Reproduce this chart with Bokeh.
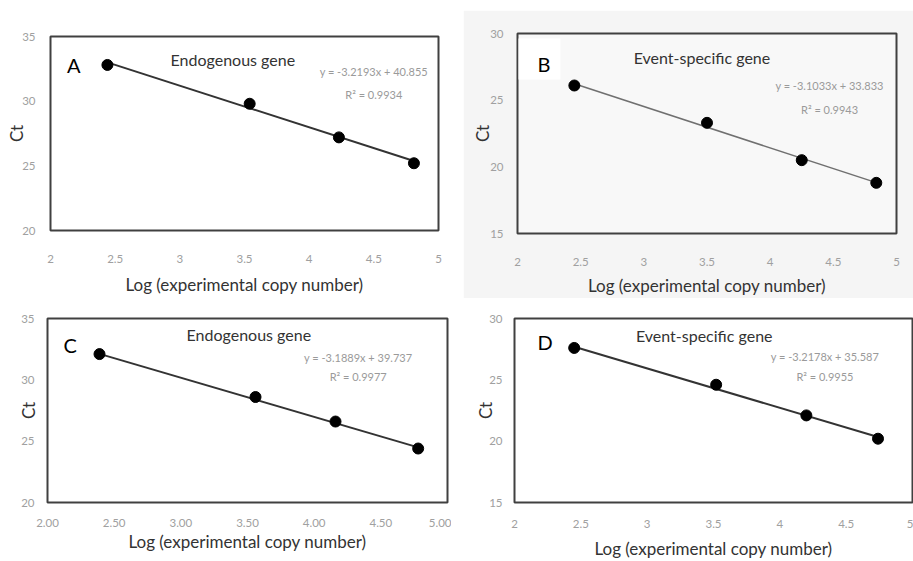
from bokeh.plotting import figure
from bokeh.layouts import column, row
from bokeh.models import Range1d, SingleIntervalTicker, NumeralTickFormatter, Label, BoxAnnotation, Spacer
from bokeh.embed import file_html
from bokeh.resources import INLINE

# ---- data ----
a_x = [2.44, 3.54, 4.23, 4.81]
a_y = [32.8, 29.8, 27.2, 25.2]
b_x = [2.45, 3.50, 4.25, 4.84]
b_y = [26.1, 23.3, 20.5, 18.8]
c_x = [2.39, 3.56, 4.16, 4.78]
c_y = [32.1, 28.6, 26.6, 24.4]
d_x = [2.45, 3.52, 4.20, 4.74]
d_y = [27.6, 24.6, 22.1, 20.2]

slopes = [-3.2193, -3.1033, -3.1889, -3.2178]
intercepts = [40.855, 33.833, 39.737, 35.587]
r2 = ["0.9934", "0.9943", "0.9977", "0.9955"]
panel_letters = ["A", "B", "C", "D"]
panel_titles = ["Endogenous gene", "Event-specific gene", "Endogenous gene", "Event-specific gene"]
y_ranges = [(20, 35), (15, 30), (20, 35), (15, 30)]
x_label = "Log (experimental copy number)"
y_label = "Ct"

FONT = "Lato"


def panel(i, xs, ys, width, height, mb, xstand, xlab_stand, ystand, ylab_stand,
          letter_pos, title_pos, eq_pos, r2_y, tick_fmt="0.[0]",
          line_color="#333333", line_width=2.0, border_fill="white", bg_fill="white"):
    ylo, yhi = y_ranges[i]
    p = figure(width=width, height=height, output_backend="svg", toolbar_location=None,
               title=None,
               x_range=Range1d(2, 5), y_range=Range1d(ylo, yhi),
               min_border_left=mb[0], min_border_right=mb[1],
               min_border_top=mb[2], min_border_bottom=mb[3],
               border_fill_color=border_fill, background_fill_color=bg_fill)
    p.grid.visible = False
    p.outline_line_color = "#404040"
    p.outline_line_width = 2
    for ax in (p.xaxis[0], p.yaxis[0]):
        ax.axis_line_color = None
        ax.major_tick_line_color = None
        ax.minor_tick_line_color = None
        ax.major_tick_out = 0
        ax.major_tick_in = 0
        ax.minor_tick_out = 0
        ax.minor_tick_in = 0
        ax.major_label_text_font = FONT
        ax.major_label_text_font_size = "11.5px"
        ax.major_label_text_color = "#a0a0a0"
        ax.axis_label_text_font = FONT
        ax.axis_label_text_font_size = "17px"
        ax.axis_label_text_font_style = "normal"
        ax.axis_label_text_color = "#333333"
    p.xaxis.ticker = SingleIntervalTicker(interval=0.5)
    p.yaxis.ticker = SingleIntervalTicker(interval=5)
    p.xaxis.formatter = NumeralTickFormatter(format=tick_fmt)
    p.xaxis.axis_label = x_label
    p.yaxis.axis_label = y_label
    p.xaxis.major_label_standoff = xstand
    p.xaxis.axis_label_standoff = xlab_stand
    p.yaxis.major_label_standoff = ystand
    p.yaxis.axis_label_standoff = ylab_stand
    p.yaxis.major_label_orientation = "horizontal"

    # trend line from the fitted equation over the data range
    lx = [min(xs), max(xs)]
    ly = [slopes[i] * v + intercepts[i] for v in lx]
    p.line(lx, ly, line_color=line_color, line_width=line_width)
    p.scatter(xs, ys, size=11, fill_color="black", line_color="black")

    p.add_layout(Label(x=letter_pos[0], y=letter_pos[1], text=panel_letters[i],
                       text_font=FONT, text_font_size="20px", text_color="black",
                       text_align="center", text_baseline="middle"))
    p.add_layout(Label(x=title_pos[0], y=title_pos[1], text=panel_titles[i],
                       text_font=FONT, text_font_size="16px", text_color="#333333",
                       text_align="center", text_baseline="middle"))
    sign = "+" if intercepts[i] >= 0 else "-"
    eq = f"y = {slopes[i]}x {sign} {abs(intercepts[i]):.3f}"
    p.add_layout(Label(x=eq_pos[0], y=eq_pos[1], text=eq,
                       text_font=FONT, text_font_size="11px", text_color="#9a9a9a",
                       text_align="center", text_baseline="middle"))
    p.add_layout(Label(x=eq_pos[0], y=r2_y, text=f"R² = {r2[i]}",
                       text_font=FONT, text_font_size="11px", text_color="#9a9a9a",
                       text_align="center", text_baseline="middle"))
    return p


# min borders: (left, right, top, bottom)
pA = panel(0, a_x, a_y, 463, 298, (50, 25, 36, 68), 24, 8, 15, -8,
           (2.18, 32.76), (3.41, 33.22), (4.50, 32.32), 30.49)
pB = panel(1, b_x, b_y, 450, 288, (54, 17, 23, 65), 24, 6, 14, -6,
           (2.21, 27.75), (3.46, 28.22), (4.47, 26.08), 24.3,
           line_color="#707070", line_width=1.5, border_fill="#f5f5f5", bg_fill="#f8f8f8")
pB.add_layout(BoxAnnotation(left=2.008, right=2.34, bottom=26.55, top=29.63,
                            fill_color="white", fill_alpha=1.0, line_color=None, level="underlay"))
pC = panel(2, c_x, c_y, 451, 263, (47, 4, 20, 56), 16, 1, 13, -21,
           (2.17, 32.83), (3.51, 33.69), (4.33, 31.82), 30.29, tick_fmt="0.00")
pD = panel(3, d_x, d_y, 462, 263, (63, 1, 17, 57), 17, 7, 12, -10,
           (2.23, 28.10), (3.43, 28.60), (4.34, 26.88), 25.25)

top = row(pA, column(Spacer(width=450, height=10), pB))
layout = column(top, row(pC, pD))
open("out.html", "w").write(file_html(layout, INLINE))
